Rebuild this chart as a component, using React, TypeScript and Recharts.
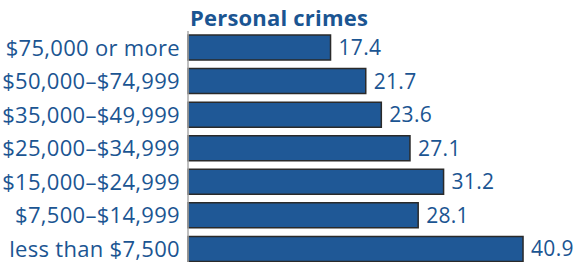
import { BarChart, Bar, XAxis, YAxis, LabelList } from 'recharts';

const BLUE = '#1f5896';
const TEXT_BLUE = '#1b5592';
const FONT = '"Open Sans", "Noto Sans", sans-serif';

const incomeGroups = [
  '$75,000 or more',
  '$50,000–$74,999',
  '$35,000–$49,999',
  '$25,000–$34,999',
  '$15,000–$24,999',
  '$7,500–$14,999',
  'less than $7,500',
];
const rates = [17.4, 21.7, 23.6, 27.1, 31.2, 28.1, 40.9];

const data = incomeGroups.map((groep, i) => ({ groep, rate: rates[i] }));

export default function App() {
  return (
    <div style={{ position: 'absolute', left: 0, top: 0, width: 573, height: 262, overflow: 'hidden', fontFamily: FONT }}>
      <div
        style={{
          position: 'absolute', left: 190, top: 3, fontSize: 22, fontWeight: 700,
          color: TEXT_BLUE, lineHeight: '28px', letterSpacing: 0.2,
        }}
      >
        Personal crimes
      </div>
      <BarChart
        width={573}
        height={266}
        data={data}
        layout="vertical"
        margin={{ top: 31, right: 0, left: 0, bottom: 0 }}
        barSize={25}
      >
        <XAxis type="number" domain={[0, 47]} hide />
        <YAxis
          type="category"
          dataKey="groep"
          width={188}
          tickLine={false}
          tickSize={0}
          tickMargin={8}
          axisLine={{ stroke: '#aaaaaa', strokeWidth: 1.5 }}
          tick={{ fill: TEXT_BLUE, fontSize: 22, fontFamily: FONT, letterSpacing: 0.3 }}
        />
        <Bar dataKey="rate" fill={BLUE} stroke="#2a2a2a" strokeWidth={1.5} isAnimationActive={false}>
          <LabelList dataKey="rate" position="right" offset={8} fill={TEXT_BLUE} fontSize={21} fontFamily={FONT} letterSpacing={0.3} />
        </Bar>
      </BarChart>
    </div>
  );
}
